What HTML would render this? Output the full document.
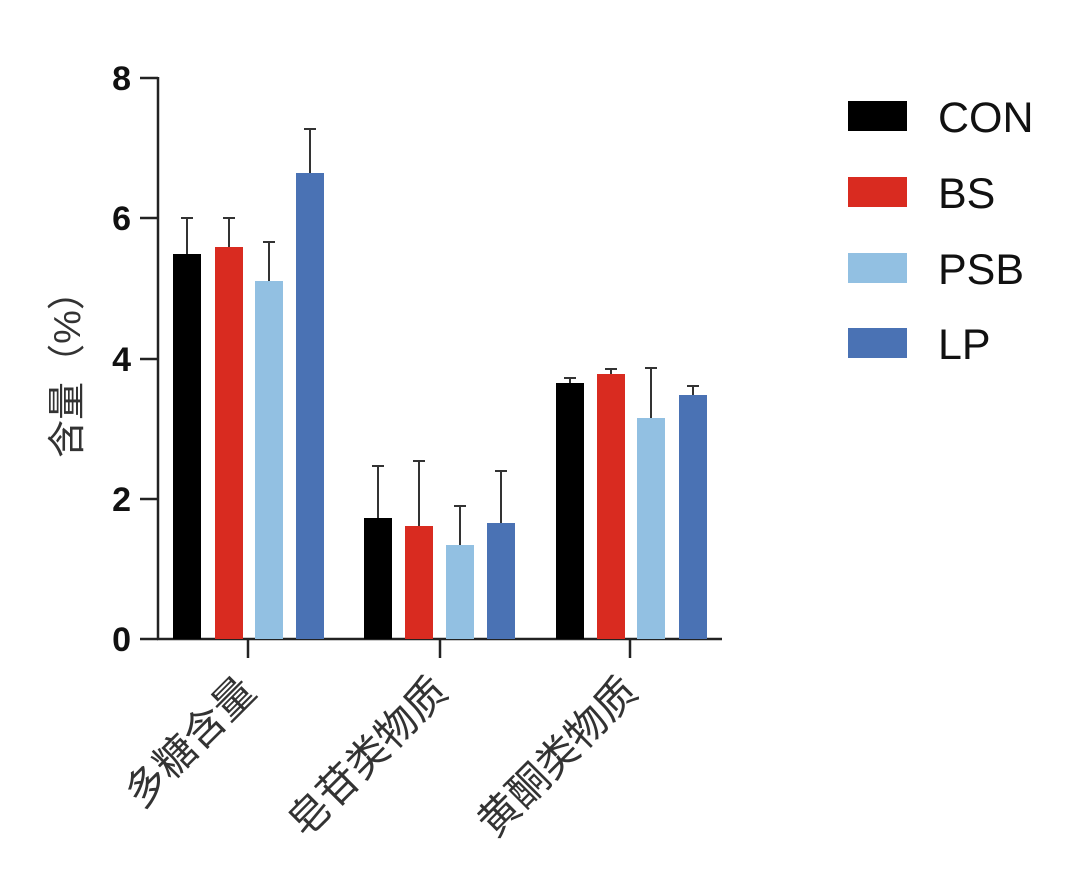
<!DOCTYPE html>
<html><head><meta charset="utf-8"><style>body{margin:0;background:#fff}</style></head>
<body>
<svg width="1080" height="884" viewBox="0 0 1080 884" xmlns="http://www.w3.org/2000/svg" font-family="Liberation Sans, Noto Sans CJK SC, sans-serif">
<g stroke="#222" stroke-width="2.5" fill="none">
<line x1="158" y1="77" x2="158" y2="640"/>
<line x1="157" y1="639" x2="722" y2="639"/>
<line x1="140" y1="78" x2="158" y2="78"/>
<line x1="140" y1="218" x2="158" y2="218"/>
<line x1="140" y1="359" x2="158" y2="359"/>
<line x1="140" y1="499" x2="158" y2="499"/>
<line x1="140" y1="639" x2="158" y2="639"/>
<line x1="248" y1="639" x2="248" y2="658"/>
<line x1="440" y1="639" x2="440" y2="658"/>
<line x1="630" y1="639" x2="630" y2="658"/>
</g>
<g font-size="34" font-weight="bold" text-anchor="end" fill="#111">
<text x="131" y="90">8</text><text x="131" y="230">6</text><text x="131" y="371">4</text><text x="131" y="511">2</text><text x="131" y="651">0</text>
</g>
<text transform="translate(80,365) rotate(-90)" font-size="38" text-anchor="middle" fill="#333">含量（%）</text>
<g stroke="#333" stroke-width="2">
<line x1="187" y1="218" x2="187" y2="254"/><line x1="181" y1="218" x2="193" y2="218"/>
<line x1="229" y1="218" x2="229" y2="247"/><line x1="223" y1="218" x2="235" y2="218"/>
<line x1="269" y1="242" x2="269" y2="281"/><line x1="263" y1="242" x2="275" y2="242"/>
<line x1="310" y1="129" x2="310" y2="173"/><line x1="304" y1="129" x2="316" y2="129"/>
<line x1="378" y1="466" x2="378" y2="518"/><line x1="372" y1="466" x2="384" y2="466"/>
<line x1="419" y1="461" x2="419" y2="526"/><line x1="413" y1="461" x2="425" y2="461"/>
<line x1="460" y1="506" x2="460" y2="545"/><line x1="454" y1="506" x2="466" y2="506"/>
<line x1="501" y1="471" x2="501" y2="523"/><line x1="495" y1="471" x2="507" y2="471"/>
<line x1="570" y1="378" x2="570" y2="383"/><line x1="564" y1="378" x2="576" y2="378"/>
<line x1="611" y1="369" x2="611" y2="374"/><line x1="605" y1="369" x2="617" y2="369"/>
<line x1="651" y1="368" x2="651" y2="418"/><line x1="645" y1="368" x2="657" y2="368"/>
<line x1="693" y1="386" x2="693" y2="395"/><line x1="687" y1="386" x2="699" y2="386"/>
</g>
<rect x="173" y="254" width="28" height="385" fill="#000"/>
<rect x="215" y="247" width="28" height="392" fill="#d92b20"/>
<rect x="255" y="281" width="28" height="358" fill="#92c0e2"/>
<rect x="296" y="173" width="28" height="466" fill="#4a72b4"/>
<rect x="364" y="518" width="28" height="121" fill="#000"/>
<rect x="405" y="526" width="28" height="113" fill="#d92b20"/>
<rect x="446" y="545" width="28" height="94" fill="#92c0e2"/>
<rect x="487" y="523" width="28" height="116" fill="#4a72b4"/>
<rect x="556" y="383" width="28" height="256" fill="#000"/>
<rect x="597" y="374" width="28" height="265" fill="#d92b20"/>
<rect x="637" y="418" width="28" height="221" fill="#92c0e2"/>
<rect x="679" y="395" width="28" height="244" fill="#4a72b4"/>
<g font-size="41" fill="#333" text-anchor="end">
<text transform="translate(258,694) rotate(-45)">多糖含量</text>
<text transform="translate(450,694) rotate(-45)">皂苷类物质</text>
<text transform="translate(640,694) rotate(-45)">黄酮类物质</text>
</g>
<rect x="848" y="101" width="59" height="30" fill="#000"/>
<rect x="848" y="177" width="59" height="30" fill="#d92b20"/>
<rect x="848" y="253" width="59" height="30" fill="#92c0e2"/>
<rect x="848" y="328" width="59" height="30" fill="#4a72b4"/>
<g font-size="43" fill="#111">
<text x="938" y="132">CON</text><text x="938" y="208">BS</text><text x="938" y="284">PSB</text><text x="938" y="359">LP</text>
</g>
</svg>
</body></html>
